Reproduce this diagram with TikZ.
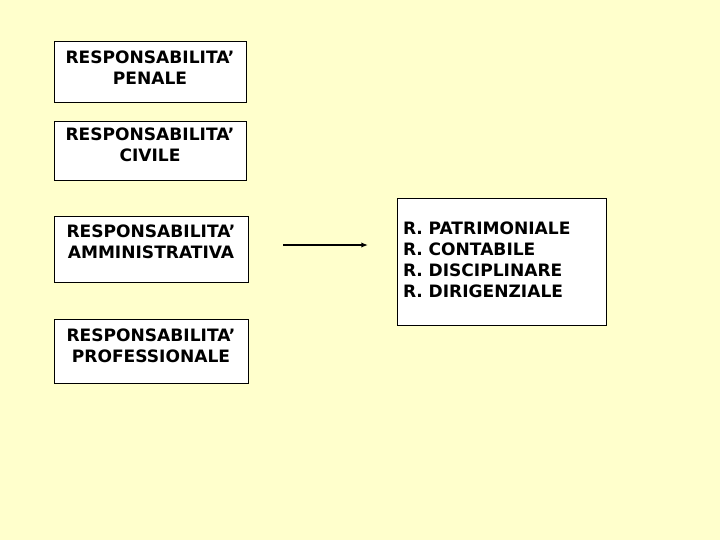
\documentclass[tikz,border=0pt]{standalone}
\usepackage{fontspec}
\setmainfont{DejaVu Sans}
\usetikzlibrary{arrows.meta}
\definecolor{bgyellow}{HTML}{FFFFCC}

\begin{document}
\begin{tikzpicture}[x=0.75pt,y=-0.75pt,inner sep=0pt,outer sep=0pt,
    every node/.style={font=\fontsize{12.8}{15.5}\selectfont\bfseries},
    resp/.style={draw=black,line width=0.75pt,fill=white,anchor=north,
        align=center}]
    % background
    \fill[bgyellow] (0,0) rectangle (720,540);
    \useasboundingbox (0,0) rectangle (720,540);

    % left column
    \node[resp,minimum width=144pt,text height=32.25pt,text depth=13.5pt] (penale) at (150,41)
    {RESPONSABILITA’\\PENALE};
    \node[resp,minimum width=144pt,text height=30pt,text depth=14.25pt] (civile) at (150,121)
    {RESPONSABILITA’\\CIVILE};
    \node[resp,minimum width=145.5pt,text height=31.5pt,text depth=18pt] (ammin) at (151,216)
    {RESPONSABILITA’\\AMMINISTRATIVA};
    \node[resp,minimum width=145.5pt,text height=32.25pt,text depth=15.75pt] (prof) at (151,319)
    {RESPONSABILITA’\\PROFESSIONALE};

    % right box
    \node[resp,anchor=north west,align=left,inner xsep=4.5pt,text width=147.75pt,
        text height=27pt,text depth=68.25pt,
        font=\fontsize{12.8}{15.9}\selectfont\bfseries] (rtypes) at (397,198)
    {R. PATRIMONIALE\\R. CONTABILE\\R. DISCIPLINARE\\R. DIRIGENZIALE};

    % arrow
    \coordinate (arr_start) at (283,245);
    \coordinate (arr_end) at (368,245);
    \draw[-{Latex[length=5pt,width=4pt]},line width=1pt] (arr_start) -- (arr_end);
\end{tikzpicture}
\end{document}
